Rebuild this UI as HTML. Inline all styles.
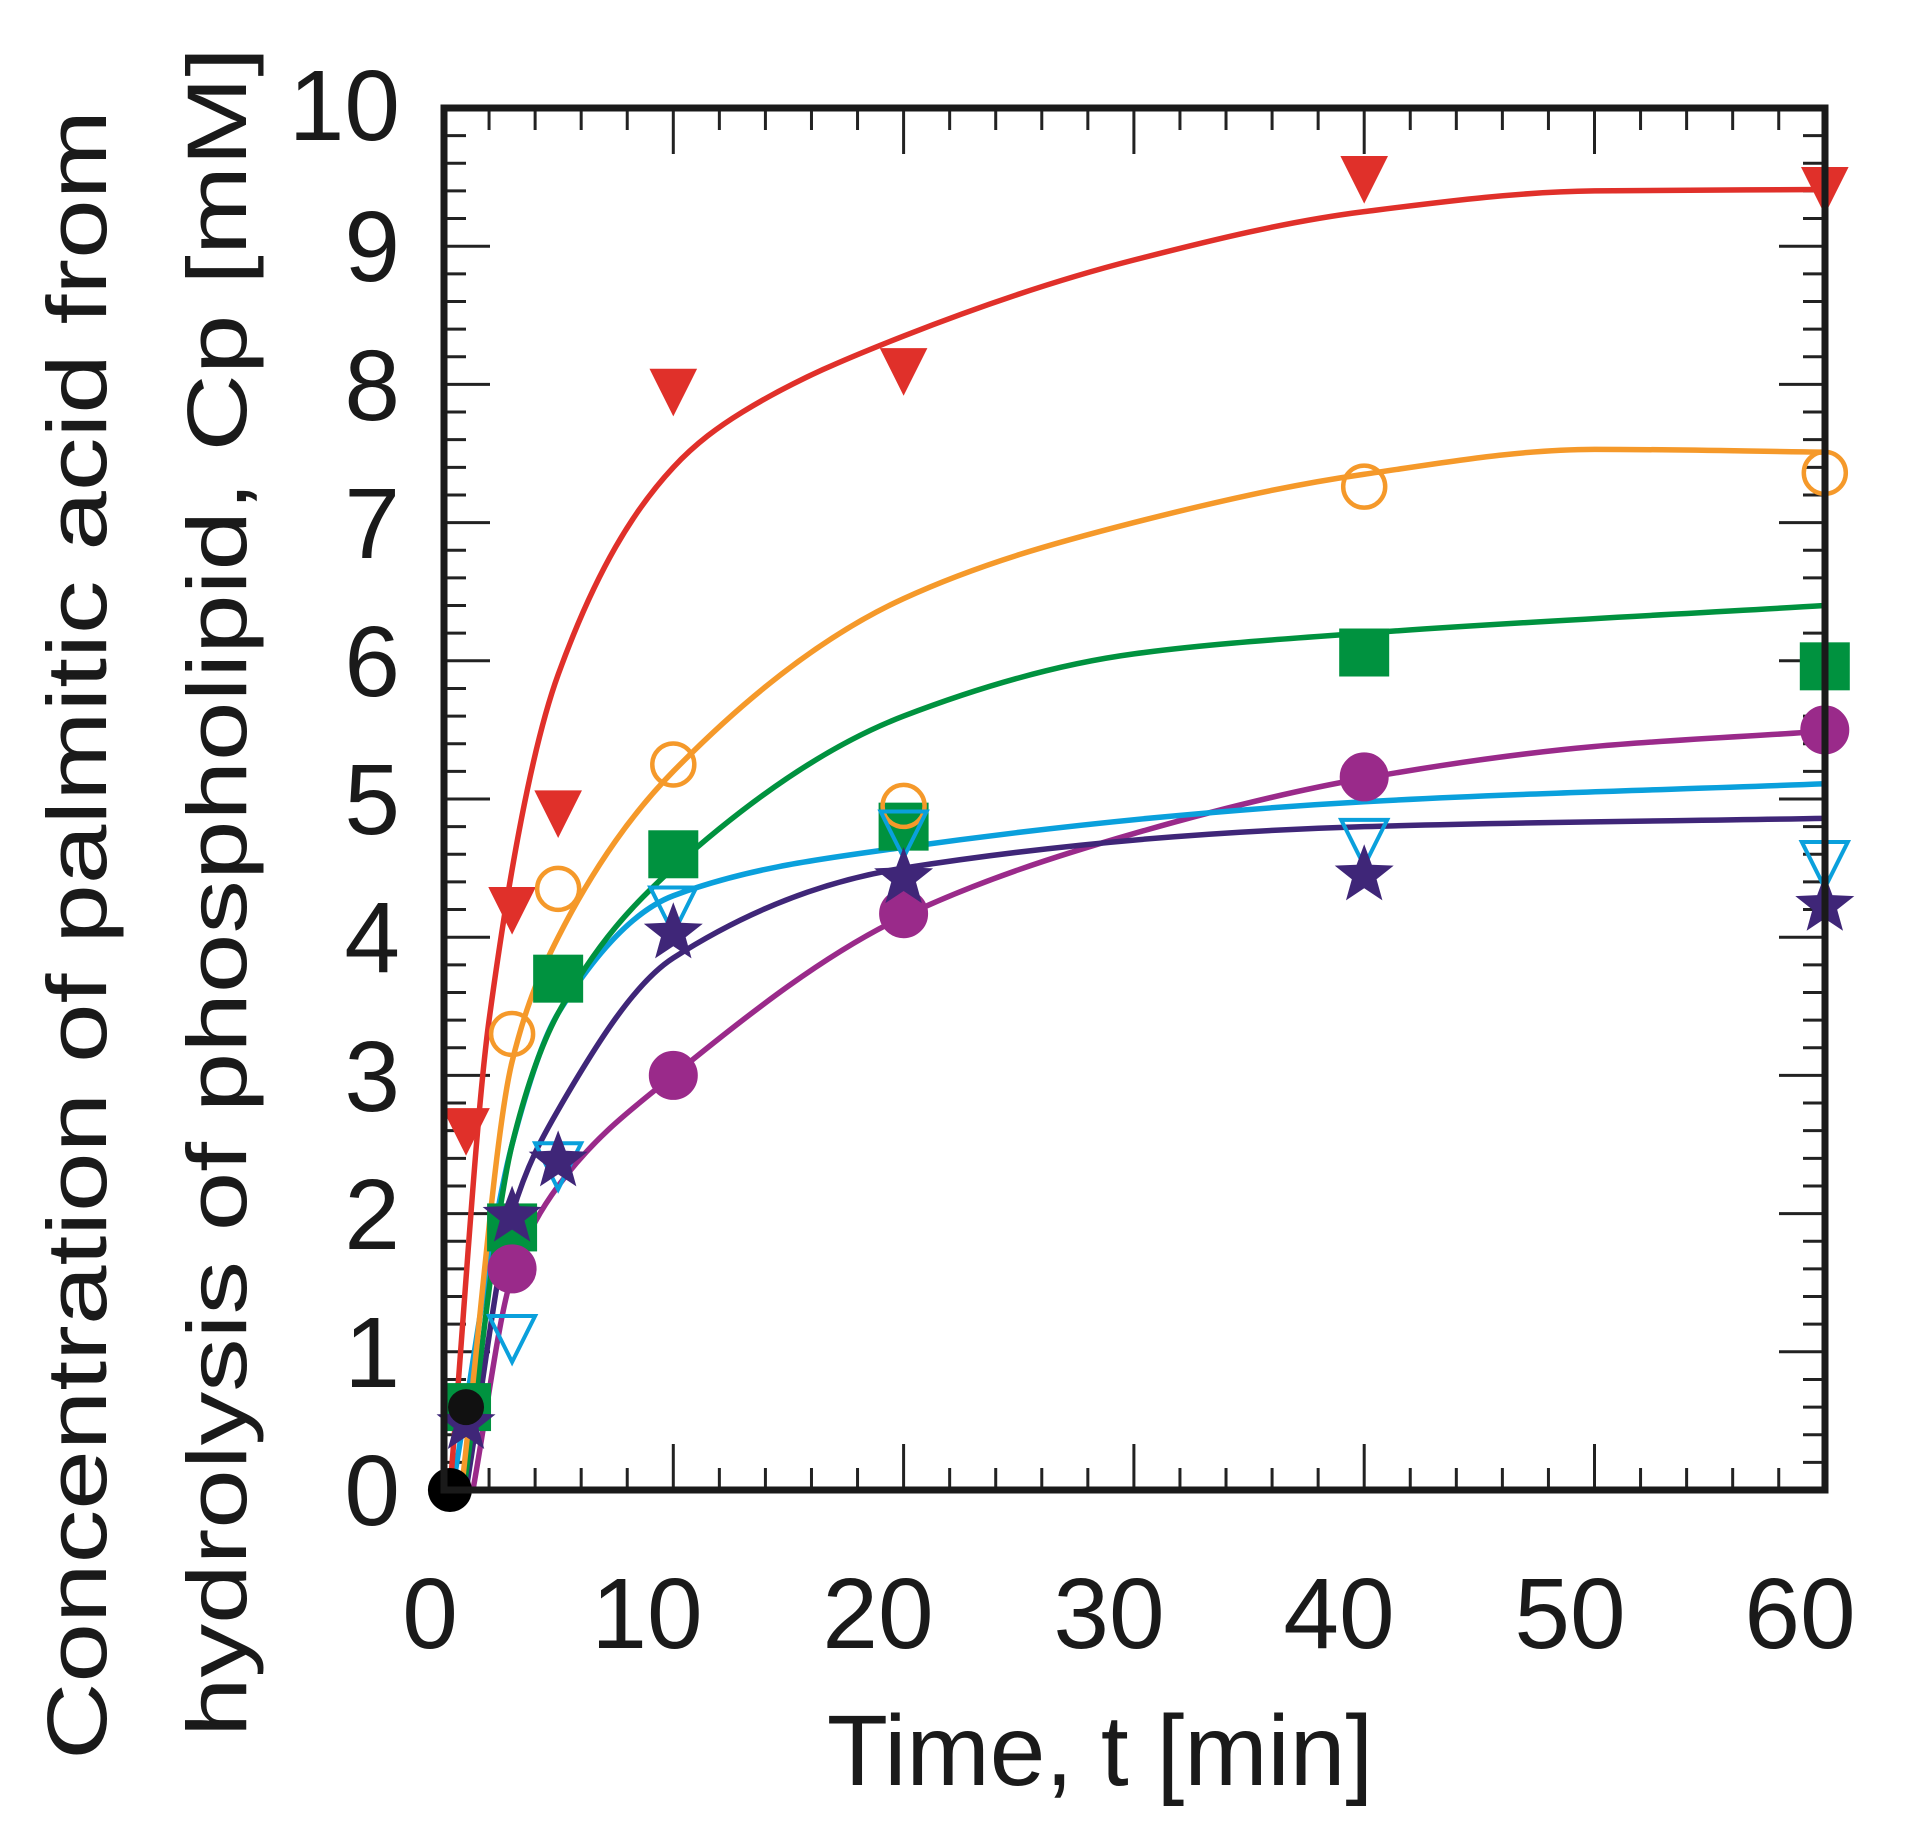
<!DOCTYPE html>
<html><head><meta charset="utf-8"><style>
html,body{margin:0;padding:0;background:#fff;}
svg{display:block;}
text{font-family:"Liberation Sans",Arial,sans-serif;fill:#1a1a1a;}
</style></head><body>
<svg id="s" width="1906" height="1826" viewBox="0 0 1906 1826" xmlns="http://www.w3.org/2000/svg">
<rect width="1906" height="1826" fill="#fff"/>
<g id="ticks" stroke="#222" stroke-width="3"></g>
<g id="curves" fill="none" stroke-width="5.5" stroke-linecap="round"></g>
<g id="marks"></g>
<rect x="444" y="108" width="1381" height="1382" fill="none" stroke="#1a1a1a" stroke-width="7"/>
<g font-size="100" text-anchor="end">
<text x="400" y="1525">0</text><text x="400" y="1387">1</text><text x="400" y="1249">2</text>
<text x="400" y="1111">3</text><text x="400" y="972">4</text><text x="400" y="834">5</text>
<text x="400" y="696">6</text><text x="400" y="558">7</text><text x="400" y="420">8</text>
<text x="400" y="281">9</text><text x="400" y="140">10</text>
</g>
<g font-size="100" text-anchor="middle">
<text x="430" y="1648">0</text><text x="647" y="1648">10</text><text x="878" y="1648">20</text>
<text x="1109" y="1648">30</text><text x="1339" y="1648">40</text><text x="1570" y="1648">50</text>
<text x="1800" y="1648">60</text>
</g>
<text x="1100" y="1785" font-size="100" text-anchor="middle">Time, t [min]</text>
<text transform="translate(106,935) rotate(-90)" font-size="84" text-anchor="middle" textLength="1650" lengthAdjust="spacingAndGlyphs">Concentration of palmitic acid from</text>
<text transform="translate(246,892) rotate(-90)" font-size="84" text-anchor="middle" textLength="1690" lengthAdjust="spacingAndGlyphs">hydrolysis of phospholipid, Cp [mM]</text>
</svg>
<script>
var X=function(t){return 443+t*23.03;},Y=function(v){return 1490-v*138.2;};
var NS="http://www.w3.org/2000/svg";
function el(p,n,a){var e=document.createElementNS(NS,n);for(var k in a)e.setAttribute(k,a[k]);p.appendChild(e);return e;}
var tk=document.getElementById('ticks');
for(var i=1;i<30;i++){var x=X(i*2),L=(i%5==0)?46:22;el(tk,'line',{x1:x,y1:1490,x2:x,y2:1490-L});el(tk,'line',{x1:x,y1:108,x2:x,y2:108+L});}
for(var i=1;i<50;i++){var y=Y(i*0.2),L=(i%5==0)?46:22;el(tk,'line',{x1:444,y1:y,x2:444+L,y2:y});el(tk,'line',{x1:1825,y1:y,x2:1825-L,y2:y});}
function path(pts){
 var n=pts.length,xs=pts.map(function(a){return X(a[0]);}),ys=pts.map(function(a){return Y(a[1]);});
 var d=[],m=[];for(var i=0;i<n-1;i++)d.push((ys[i+1]-ys[i])/(xs[i+1]-xs[i]));
 m[0]=d[0];m[n-1]=d[n-2];
 for(var i=1;i<n-1;i++){if(d[i-1]*d[i]<=0)m[i]=0;else{var h0=xs[i]-xs[i-1],h1=xs[i+1]-xs[i];var w1=2*h1+h0,w2=h1+2*h0;m[i]=(w1+w2)/(w1/d[i-1]+w2/d[i]);}}
 var s='M'+xs[0]+','+ys[0];
 for(var i=0;i<n-1;i++){var h=(xs[i+1]-xs[i])/3;s+=' C'+(xs[i]+h)+','+(ys[i]+m[i]*h)+' '+(xs[i+1]-h)+','+(ys[i+1]-m[i+1]*h)+' '+xs[i+1]+','+ys[i+1];}
 return s;}
var cv=document.getElementById('curves');
var C={red:'#e0302a',or:'#f5992a',gr:'#00923f',cy:'#0aa0dc',nv:'#3f2678',pu:'#9a2a8a'};
var curves=[
[C.pu,[[1.3,0],[3,1.55],[5,2.2],[10,3.0],[20,4.15],[30,4.75],[40,5.15],[50,5.38],[60,5.49]]],
[C.nv,[[1,0],[3,2.0],[5,2.75],[10,3.85],[20,4.5],[40,4.8],[60,4.86]]],
[C.cy,[[0.4,0],[3,2.5],[5,3.45],[10,4.3],[20,4.65],[40,4.98],[60,5.11]]],
[C.gr,[[0.9,0],[3,2.5],[5,3.45],[10,4.5],[20,5.6],[30,6.05],[40,6.2],[60,6.4]]],
[C.or,[[0.8,0],[3,3.1],[5,4.0],[10,5.2],[20,6.45],[30,7.0],[40,7.35],[50,7.53],[60,7.51]]],
[C.red,[[0.3,0],[2,3.4],[5,5.9],[10,7.4],[13,7.8],[20,8.35],[30,8.9],[40,9.25],[50,9.4],[60,9.41]]]];
curves.forEach(function(c){el(cv,'path',{d:path(c[1]),stroke:c[0]});});
var mk=document.getElementById('marks');
function tri(t,v,col,fill){var x=X(t),y=Y(v);el(mk,'polygon',{points:(x-23)+','+(y-22)+' '+(x+23)+','+(y-22)+' '+x+','+(y+24),fill:fill?col:'none',stroke:col,'stroke-width':fill?1:4});}
function circ(t,v,col,fill){el(mk,'circle',{cx:X(t),cy:Y(v),r:fill?24:21,fill:fill?col:'none',stroke:col,'stroke-width':fill?1:4.5});}
function sq(t,v,col){el(mk,'rect',{x:X(t)-25,y:Y(v)-24,width:50,height:48,fill:col});}
function star(t,v,col){var x=X(t),y=Y(v),p=[];for(var i=0;i<10;i++){var r=i%2?13:31,a=-Math.PI/2+i*Math.PI/5;p.push((x+r*Math.cos(a))+','+(y+r*Math.sin(a)+3));}el(mk,'polygon',{points:p.join(' '),fill:col});}
[[1,2.6],[3,4.2],[5,4.9],[10,7.95],[20,8.1],[40,9.49],[60,9.41]].forEach(function(a){tri(a[0],a[1],C.red,1);});
[[1,0.6],[3,1.9],[5,3.7],[10,4.6],[20,4.8],[40,6.06],[60,5.96]].forEach(function(a){sq(a[0],a[1],C.gr);});
[[3,3.3],[5,4.35],[10,5.25],[20,4.95],[40,7.26],[60,7.36]].forEach(function(a){circ(a[0],a[1],C.or,0);});
[[3,1.1],[5,2.35],[10,4.2],[20,4.75],[40,4.69],[60,4.53]].forEach(function(a){tri(a[0],a[1],C.cy,0);});
[[3,1.6],[10,3.0],[20,4.17],[40,5.16],[60,5.5]].forEach(function(a){circ(a[0],a[1],C.pu,1);});
[[1,0.5],[3,2.0],[5,2.4],[10,4.05],[20,4.45],[40,4.47],[60,4.25]].forEach(function(a){star(a[0],a[1],C.nv);});
el(mk,'circle',{cx:X(0.3),cy:Y(0),r:22,fill:'#000'});
el(mk,'circle',{cx:X(1),cy:Y(0.6),r:18,fill:'#111'});
</script>
</body></html>
